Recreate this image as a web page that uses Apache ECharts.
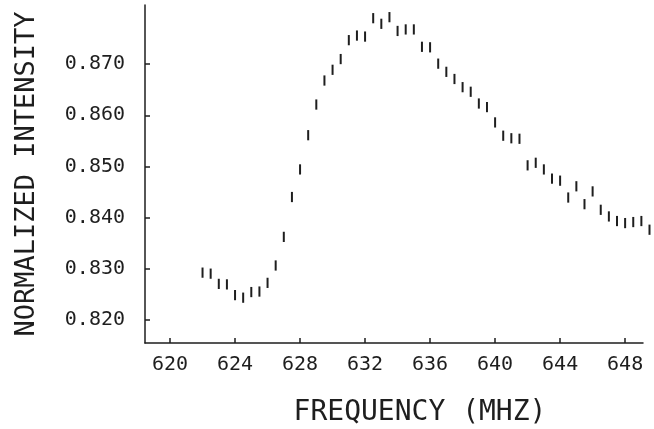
<!DOCTYPE html>
<html>
<head>
<meta charset="utf-8">
<script src="https://cdn.jsdelivr.net/npm/echarts@6/dist/echarts.min.js"></script>
<style>
  html, body { margin: 0; padding: 0; background: #fff; }
  #chart { width: 654px; height: 429px; }
</style>
</head>
<body>
<div id="chart"></div>
<script>
// frequency in MHz
var freq = [622.0, 622.5, 623.0, 623.5, 624.0, 624.5, 625.0, 625.5, 626.0, 626.5,
            627.0, 627.5, 628.0, 628.5, 629.0, 629.5, 630.0, 630.5, 631.0, 631.5,
            632.0, 632.5, 633.0, 633.5, 634.0, 634.5, 635.0, 635.5, 636.0, 636.5,
            637.0, 637.5, 638.0, 638.5, 639.0, 639.5, 640.0, 640.5, 641.0, 641.5,
            642.0, 642.5, 643.0, 643.5, 644.0, 644.5, 645.0, 645.5, 646.0, 646.5,
            647.0, 647.5, 648.0, 648.5, 649.0, 649.5];
// normalized intensity (centre of each error bar)
var intensity = [0.8292, 0.8290, 0.8270, 0.8269, 0.8248, 0.8243, 0.8254, 0.8255, 0.8272, 0.8306,
                 0.8362, 0.8440, 0.8494, 0.8561, 0.8621, 0.8668, 0.8689, 0.8710, 0.8747, 0.8756,
                 0.8754, 0.8790, 0.8779, 0.8792, 0.8765, 0.8768, 0.8768, 0.8734, 0.8733, 0.8701,
                 0.8685, 0.8671, 0.8655, 0.8646, 0.8623, 0.8616, 0.8586, 0.8560, 0.8555, 0.8554,
                 0.8502, 0.8507, 0.8494, 0.8476, 0.8472, 0.8439, 0.8461, 0.8426, 0.8451, 0.8415,
                 0.8402, 0.8393, 0.8389, 0.8391, 0.8393, 0.8376];
var errHalf = 0.001;   // half length of the error bars

var xTicks = [620, 624, 628, 632, 636, 640, 644, 648];
var yTicks = [0.820, 0.830, 0.840, 0.850, 0.860, 0.870];

var chart = echarts.init(document.getElementById('chart'));
var font = 'DejaVu Sans Mono';
var ink = '#1e1e1e';

var barData = freq.map(function (f, i) {
    return [f, intensity[i] - errHalf, intensity[i] + errHalf];
});

var option = {
    animation: false,
    backgroundColor: '#fff',
    grid: { left: 145, right: 11, top: 5, bottom: 86, outerBoundsMode: 'none', containLabel: false },
    xAxis: {
        type: 'value',
        min: 618.46,
        max: 649.1,
        name: 'FREQUENCY (MHZ)',
        nameLocation: 'middle',
        nameGap: 56,
        nameTextStyle: { fontFamily: font, fontSize: 28, color: ink, padding: [0, 0, 0, 52] },
        axisLine: { lineStyle: { color: ink, width: 1.5 } },
        axisTick: { inside: true, length: 5, customValues: xTicks, lineStyle: { color: ink, width: 1.5 } },
        axisLabel: {
            customValues: xTicks,
            margin: 12,
            fontFamily: font, fontSize: 20, color: ink
        },
        splitLine: { show: false }
    },
    yAxis: {
        type: 'value',
        min: 0.81543,
        max: 0.88158,
        name: 'NORMALIZED INTENSITY',
        nameLocation: 'middle',
        nameGap: 105,
        nameTextStyle: { fontFamily: font, fontSize: 27, color: ink },
        axisLine: { show: true, lineStyle: { color: ink, width: 1.5 } },
        axisTick: { show: true, inside: true, length: 5, customValues: yTicks, lineStyle: { color: ink, width: 1.5 } },
        axisLabel: {
            customValues: yTicks,
            margin: 20,
            fontFamily: font, fontSize: 20, color: ink,
            formatter: function (v) { return v.toFixed(3); }
        },
        splitLine: { show: false }
    },
    series: [{
        type: 'custom',
        data: barData,
        renderItem: function (params, api) {
            var top = api.coord([api.value(0), api.value(2)]);
            var bot = api.coord([api.value(0), api.value(1)]);
            return {
                type: 'line',
                shape: { x1: top[0], y1: top[1], x2: bot[0], y2: bot[1] },
                style: { stroke: ink, lineWidth: 2 }
            };
        }
    }]
};

chart.setOption(option);
</script>
</body>
</html>
